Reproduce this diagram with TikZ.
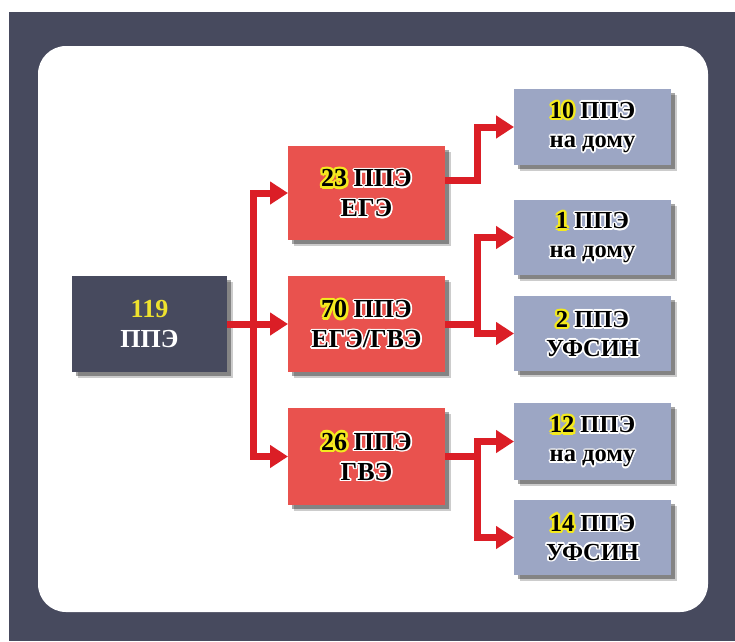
\documentclass[tikz,border=0pt]{standalone}
\usepackage{fontspec}
\setmainfont{Liberation Serif}
\usetikzlibrary{arrows.meta,shadows}
\definecolor{navy}{RGB}{71,74,94}
\definecolor{boxred}{RGB}{233,82,78}
\definecolor{boxblue}{RGB}{156,166,196}
\definecolor{arrred}{RGB}{219,30,38}
\definecolor{glow}{RGB}{244,234,30}
\definecolor{numyel}{RGB}{238,226,46}
\newcommand\olt[4]{\leavevmode\begingroup
  \foreach \a in {0,30,...,330}{%
    \pgfmathsetmacro\dx{#2*cos(\a)}\pgfmathsetmacro\dy{#2*sin(\a)}%
    \rlap{\hspace*{\dx pt}\raisebox{\dy pt}{\textcolor{#1}{#4}}}}%
  \textcolor{#3}{#4}\endgroup}
\newcommand\num[1]{\olt{glow}{2.4}{black}{#1}}
\newcommand\wrd[1]{\olt{white}{1.6}{black}{#1}}
\tikzset{
  shad/.style={drop shadow={shadow xshift=6pt,shadow yshift=-6pt,opacity=.2,fill=black},
               drop shadow={shadow xshift=4pt,shadow yshift=-4pt,opacity=.35,fill=black}},
  box/.style={shad,anchor=north west,inner sep=0pt,outer sep=0pt,align=center,
              font=\fontsize{26}{30}\selectfont\bfseries},
  darkbox/.style={box,fill=navy,minimum width=155pt,minimum height=96pt},
  redbox/.style={box,fill=boxred,minimum width=157pt},
  bluebox/.style={box,fill=boxblue,minimum width=157pt,font=\fontsize{24.5}{29}\selectfont\bfseries},
  arr/.style={draw=arrred,line width=7pt,-{Triangle[length=18pt,width=22pt]}}
}
\begin{document}
\begin{tikzpicture}[x=1pt,y=-1pt]
\useasboundingbox (0,0) rectangle (735,641);
\fill[white] (0,0) rectangle (735,641);
\fill[navy] (9,12) rectangle (735,641);
\fill[white,rounded corners=28pt] (38,46) rectangle (708,612);

\node[darkbox] (b119) at (72,276) {\textcolor{numyel}{119}\\\textcolor{white}{ППЭ}};

\node[redbox,minimum height=94pt] (red1) at (288,146) {\num{23} \wrd{ППЭ}\\\wrd{ЕГЭ}};
\node[redbox,minimum height=96pt] (red2) at (288,276) {\num{70} \wrd{ППЭ}\\\wrd{ЕГЭ/ГВЭ}};
\node[redbox,minimum height=97pt] (red3) at (288,408) {\num{26} \wrd{ППЭ}\\\wrd{ГВЭ}};

\node[bluebox,minimum height=76pt] (blue10) at (514,89) {\num{10} \wrd{ППЭ}\\\wrd{на дому}};
\node[bluebox,minimum height=75pt] (blue1) at (514,200) {\num{1} \wrd{ППЭ}\\\wrd{на дому}};
\node[bluebox,minimum height=75pt] (blue2) at (514,296) {\num{2} \wrd{ППЭ}\\\wrd{УФСИН}};
\node[bluebox,minimum height=77pt] (blue12) at (514,403) {\num{12} \wrd{ППЭ}\\\wrd{на дому}};
\node[bluebox,minimum height=75pt] (blue14) at (514,500) {\num{14} \wrd{ППЭ}\\\wrd{УФСИН}};

\coordinate (t) at (253,0);
\coordinate (u) at (477,0);
\coordinate (r1o) at ([yshift=13pt]red1.east);

\draw[arr] (b119.east) -- (t |- b119.east) |- (red1.west);
\draw[arr] (b119.east) -- (b119.east -| red2.west);
\draw[arr] (b119.east) -- (t |- b119.east) |- (red3.west);

\draw[arr] (r1o) -- (u |- r1o) |- (blue10.west);
\draw[arr] (red2.east) -- (u |- red2.east) |- (blue1.west);
\draw[arr] (red2.east) -- (u |- red2.east) |- (blue2.west);
\draw[arr] (red3.east) -- (u |- red3.east) |- (blue12.west);
\draw[arr] (red3.east) -- (u |- red3.east) |- (blue14.west);
\end{tikzpicture}
\end{document}
